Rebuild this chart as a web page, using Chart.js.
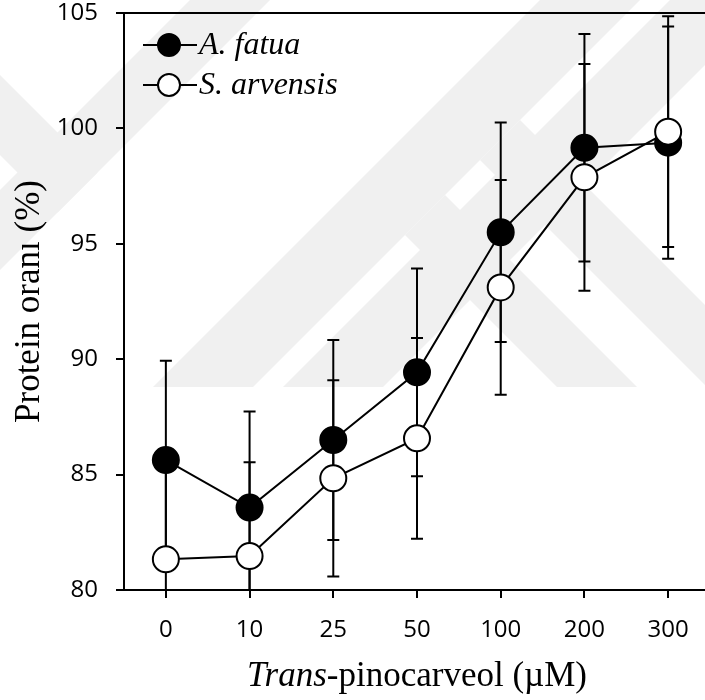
<!DOCTYPE html>
<html>
<head>
<meta charset="utf-8">
<script src="https://cdn.jsdelivr.net/npm/chart.js@4"></script>
<style>
  html, body { margin: 0; padding: 0; background: #fff; overflow: hidden; }
  #wrap { width: 712px; height: 700px; }
</style>
</head>
<body>
<div id="wrap"><canvas id="proteinChart" width="712" height="700"></canvas></div>
<script>
// doses of trans-pinocarveol (µM)
const doses = ['0', '10', '25', '50', '100', '200', '300'];
const yTicks = [80, 85, 90, 95, 100, 105];

// protein ratio (%) and error bars
const fatuaMean = [85.63, 83.57, 86.5, 89.43, 95.5, 99.16, 99.38];
const fatuaErr = [4.3, 4.16, 4.33, 4.5, 4.76, 4.93, 5.03];
const arvensisMean = [81.33, 81.47, 84.84, 86.57, 93.11, 97.88, 99.86];
const arvensisErr = [4.3, 4.06, 4.25, 4.35, 4.65, 4.91, 5.0];

const serif = '"Liberation Serif", "Times New Roman", serif';
const sans = '"Open Sans", "Liberation Sans", sans-serif';

// faint background watermark (diagonal bands)
const watermark = {
    id: 'watermark',
    beforeDraw(chart) {
        const { ctx } = chart;
        const H = 1200;
        const slash = (a, b) => { ctx.beginPath(); ctx.moveTo(a, 0); ctx.lineTo(b, 0); ctx.lineTo(b - H, H); ctx.lineTo(a - H, H); ctx.closePath(); ctx.fill(); };
        const back = (a, b) => { ctx.beginPath(); ctx.moveTo(-H, -H + a); ctx.lineTo(H, H + a); ctx.lineTo(H, H + b); ctx.lineTo(-H, -H + b); ctx.closePath(); ctx.fill(); };
        ctx.save();
        ctx.fillStyle = '#f0f0f0';
        ctx.beginPath();
        ctx.rect(0, 0, 712, 387);
        ctx.clip();
        slash(190, 270);
        slash(540, 640);
        slash(670, 770);
        // left chevron arm
        ctx.save();
        ctx.beginPath(); ctx.moveTo(0, 0); ctx.lineTo(270, 0); ctx.lineTo(0, 270); ctx.closePath(); ctx.clip();
        back(75, 155);
        ctx.restore();
        // lower right arms
        ctx.save();
        ctx.beginPath(); ctx.moveTo(640, 0); ctx.lineTo(712, 0); ctx.lineTo(712, 387); ctx.lineTo(253, 387); ctx.closePath(); ctx.clip();
        back(-250, -170);
        back(-400, -320);
        ctx.restore();
        ctx.restore();
    }
};

// error bars behind the markers
const errorBars = {
    id: 'errorBars',
    beforeDatasetsDraw(chart) {
        const { ctx, chartArea, scales: { x, y } } = chart;
        ctx.save();
        ctx.beginPath();
        ctx.rect(chartArea.left, chartArea.top - 2, chartArea.right - chartArea.left, chartArea.bottom - chartArea.top + 2);
        ctx.clip();
        ctx.strokeStyle = '#000';
        ctx.lineWidth = 2;
        chart.data.datasets.forEach(ds => {
            ds.data.forEach((v, i) => {
                const px = x.getPixelForValue(i);
                const hi = y.getPixelForValue(v + ds.err[i]);
                const lo = y.getPixelForValue(v - ds.err[i]);
                ctx.beginPath();
                ctx.moveTo(px, hi); ctx.lineTo(px, lo);
                ctx.moveTo(px - 6, hi); ctx.lineTo(px + 6, hi);
                ctx.moveTo(px - 6, lo); ctx.lineTo(px + 6, lo);
                ctx.stroke();
            });
        });
        ctx.restore();
    }
};

// frame top line, axis titles and the legend box
const decorations = {
    id: 'decorations',
    afterDraw(chart) {
        const { ctx, chartArea } = chart;
        ctx.save();
        ctx.strokeStyle = '#000';
        ctx.lineWidth = 2;
        ctx.beginPath();
        ctx.moveTo(chartArea.left, chartArea.top);
        ctx.lineTo(chartArea.right, chartArea.top);
        ctx.stroke();

        ctx.fillStyle = '#000';
        ctx.textBaseline = 'middle';

        // x title: italic "Trans" + regular rest
        const t1 = 'Trans', t2 = '-pinocarveol (µM)';
        ctx.font = 'italic 35px ' + serif;
        const w1 = ctx.measureText(t1).width;
        ctx.font = '35px ' + serif;
        const w2 = ctx.measureText(t2).width;
        const cx = (chartArea.left + chartArea.right) / 2;
        const sx = cx - (w1 + w2) / 2;
        ctx.textAlign = 'left';
        ctx.font = 'italic 35px ' + serif;
        ctx.fillText(t1, sx, 677);
        ctx.font = '35px ' + serif;
        ctx.fillText(t2, sx + w1, 677);

        // y title
        ctx.save();
        ctx.translate(30, (chartArea.top + chartArea.bottom) / 2);
        ctx.rotate(-Math.PI / 2);
        ctx.textAlign = 'center';
        ctx.font = '35px ' + serif;
        ctx.fillText('Protein oranı (%)', 0, 0);
        ctx.restore();

        // legend
        chart.data.datasets.forEach((ds, k) => {
            const ly = chartArea.top + 32 + k * 40;
            const lx = chartArea.left + 19;
            ctx.beginPath();
            ctx.moveTo(lx, ly); ctx.lineTo(lx + 54, ly);
            ctx.stroke();
            ctx.beginPath();
            ctx.arc(lx + 26, ly, 11, 0, Math.PI * 2);
            ctx.fillStyle = ds.pointBackgroundColor;
            ctx.fill();
            ctx.stroke();
            ctx.fillStyle = '#000';
            ctx.textAlign = 'left';
            ctx.font = 'italic 32px ' + serif;
            ctx.fillText(ds.label, lx + 56, ly + 1);
        });
        ctx.restore();
    }
};

const axisGrid = { display: true, drawOnChartArea: false, drawTicks: true, tickLength: 8, color: '#000', lineWidth: 2, offset: false };

new Chart(document.getElementById('proteinChart').getContext('2d'), {
    type: 'line',
    data: {
        labels: doses,
        datasets: [{
            label: 'A. fatua',
            data: fatuaMean,
            err: fatuaErr,
            borderColor: '#000',
            borderWidth: 2,
            pointRadius: 13,
            pointBorderWidth: 2,
            pointBackgroundColor: '#000',
            pointBorderColor: '#000',
            tension: 0,
            order: 2
        }, {
            label: 'S. arvensis',
            data: arvensisMean,
            err: arvensisErr,
            borderColor: '#000',
            borderWidth: 2,
            pointRadius: 13,
            pointBorderWidth: 2,
            pointBackgroundColor: '#fff',
            pointBorderColor: '#000',
            tension: 0,
            order: 1
        }]
    },
    options: {
        responsive: false,
        animation: false,
        events: [],
        layout: { autoPadding: false, padding: { top: 13, right: 2, left: 0, bottom: 0 } },
        plugins: { legend: { display: false }, tooltip: { enabled: false } },
        scales: {
            x: {
                offset: true,
                grid: axisGrid,
                border: { display: true, color: '#000', width: 2 },
                ticks: { color: '#000', font: { family: sans, size: 24 }, padding: 18, maxRotation: 0 },
                afterFit(s) { s.height = 110; s.paddingLeft = 0; s.paddingRight = 0; }
            },
            y: {
                min: 80,
                max: 105,
                grid: axisGrid,
                border: { display: true, color: '#000', width: 2 },
                afterBuildTicks(s) { s.ticks = yTicks.map(v => ({ value: v })); },
                ticks: { color: '#000', font: { family: sans, size: 24 }, padding: 18 },
                afterFit(s) { s.width = 124; s.paddingTop = 0; s.paddingBottom = 0; }
            }
        }
    },
    plugins: [watermark, errorBars, decorations]
});
</script>
</body>
</html>
